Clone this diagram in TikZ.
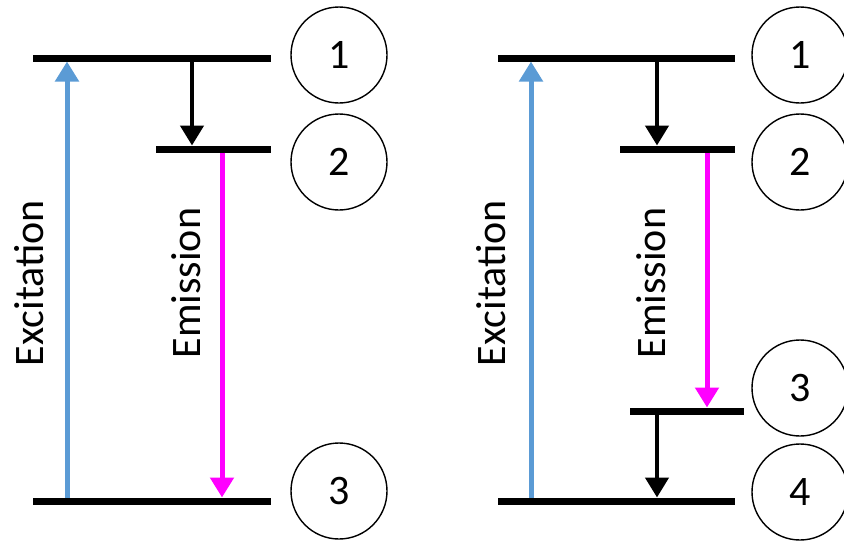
\documentclass[tikz,border=0pt]{standalone}
\usepackage{fontspec}
\setmainfont{Carlito}
\usetikzlibrary{arrows.meta}
\definecolor{exblue}{HTML}{5B9BD5}
\definecolor{emmag}{HTML}{FF00FF}
\tikzset{
  level/.style={line width=7pt},
  numcirc/.style={circle,draw,line width=1.4pt,fill=white,minimum size=96pt,inner sep=0pt,font=\fontsize{42}{50}\selectfont},
  tiparrow/.style={-{Triangle[width=23pt,length=20pt]}},
  decay/.style={tiparrow,line width=4.5pt,black,shorten >=3.5pt,shorten <=3pt},
  excite/.style={tiparrow,line width=5pt,exblue,shorten >=3.5pt,shorten <=3.5pt},
  emit/.style={tiparrow,line width=5pt,emmag,shorten >=3.5pt,shorten <=3.5pt},
  vlabel/.style={rotate=90,anchor=base,inner sep=0pt,font=\fontsize{42}{50}\selectfont}
}
\begin{document}
\begin{tikzpicture}[x=1pt,y=-1pt]
\useasboundingbox (0,0) rectangle (844,542);
% ---- left panel ----
\coordinate (A1l) at (33,58);  \coordinate (A1r) at (271,58);
\coordinate (A2l) at (156,149); \coordinate (A2r) at (271,149);
\coordinate (A3l) at (33,501); \coordinate (A3r) at (271,501);
\draw[level] (A1l) -- (A1r);
\draw[level] (A2l) -- (A2r);
\draw[level] (A3l) -- (A3r);
\coordinate (Aex0) at (67,501); \coordinate (Aex1) at (67,58);
\coordinate (Ade0) at (192,58); \coordinate (Ade1) at (192,149);
\coordinate (Aem0) at (222,149); \coordinate (Aem1) at (222,501);
\draw[excite] (Aex0) -- (Aex1);
\draw[decay] (Ade0) -- (Ade1);
\draw[emit] (Aem0) -- (Aem1);
\node[vlabel] (Aexl) at (43,283) {Excitation};
\node[vlabel] (Aeml) at (200,283) {Emission};
\node[numcirc] (Ac1) at (339,55) {1};
\node[numcirc] (Ac2) at (339,162) {2};
\node[numcirc] (Ac3) at (339,491) {3};
% ---- right panel ----
\coordinate (B1l) at (498,58);  \coordinate (B1r) at (735,58);
\coordinate (B2l) at (620,149); \coordinate (B2r) at (735,149);
\coordinate (B3l) at (630,411); \coordinate (B3r) at (744,411);
\coordinate (B4l) at (498,501); \coordinate (B4r) at (735,501);
\draw[level] (B1l) -- (B1r);
\draw[level] (B2l) -- (B2r);
\draw[level] (B3l) -- (B3r);
\draw[level] (B4l) -- (B4r);
\coordinate (Bex0) at (531,501); \coordinate (Bex1) at (531,58);
\coordinate (Bde0) at (657,58); \coordinate (Bde1) at (657,149);
\coordinate (Bem0) at (707,149); \coordinate (Bem1) at (707,411);
\coordinate (Bdf0) at (657,411); \coordinate (Bdf1) at (657,501);
\draw[excite] (Bex0) -- (Bex1);
\draw[decay] (Bde0) -- (Bde1);
\draw[emit] (Bem0) -- (Bem1);
\draw[decay] (Bdf0) -- (Bdf1);
\node[vlabel] (Bexl) at (505,283) {Excitation};
\node[vlabel] (Beml) at (665,283) {Emission};
\node[numcirc] (Bc1) at (800,55) {1};
\node[numcirc] (Bc2) at (800,162) {2};
\node[numcirc] (Bc3) at (800,388) {3};
\node[numcirc] (Bc4) at (800,492) {4};
\end{tikzpicture}
\end{document}
